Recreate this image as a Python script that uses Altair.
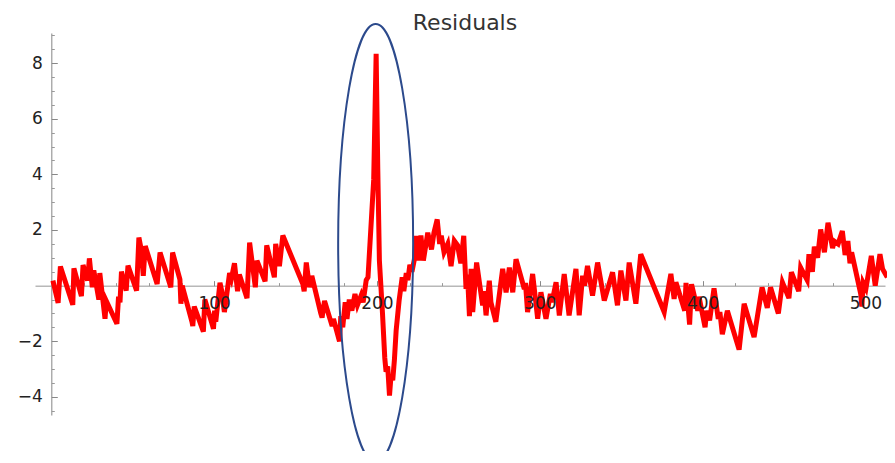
import altair as alt
import pandas as pd

# ---- data ----
xs = [1.0, 4.2, 5.6, 13.2, 13.9, 18.5, 19.5, 22.3, 23.4, 25.2, 26.1, 29.2, 29.8, 33.0, 33.8,
      40.3, 41.3, 42.2, 43.1, 46.0, 47.1, 52.4, 53.8, 55.2, 56.5, 57.7, 65.0, 66.8, 73.4, 74.5,
      79.0, 79.6, 80.4, 86.4, 86.9, 87.8, 93.4, 94.3, 99.6, 100.3, 101.0, 103.6, 104.7, 106.3,
      109.5, 110.6, 112.5, 114.4, 115.5, 120.2, 121.8, 125.3, 126.3, 131.3, 132.3, 137.0, 137.8,
      140.1, 142.2, 154.5, 155.3, 156.6, 158.6, 160.0, 165.5, 166.3, 167.8, 172.5, 173.3, 177.0,
      177.8, 179.0, 180.5, 181.6, 183.0, 184.6, 186.5, 188.0, 190.3, 191.5, 193.4, 194.5, 196.0,
      198.0, 199.5, 200.5, 201.5, 203.4, 204.8, 205.6, 206.6, 207.7, 208.7, 209.7, 210.7, 211.8,
      213.6, 215.5, 216.5, 218.0, 219.0, 220.2, 221.5, 223.0, 224.0, 225.5, 227.0, 228.5, 231.2,
      233.5, 235.0, 237.0, 238.5, 239.5, 241.2, 243.5, 245.5, 247.5, 249.5, 251.5, 253.3, 254.7,
      255.6, 256.8, 257.8, 258.8, 261.2, 264.9, 265.8, 267.0, 269.0, 270.0, 273.0, 277.2, 279.3,
      281.3, 283.4, 285.4, 290.5, 291.2, 292.5, 295.6, 298.7, 300.7, 303.8, 306.5, 307.5, 310.0,
      312.0, 315.0, 318.0, 322.2, 324.2, 326.3, 327.5, 329.3, 332.4, 335.5, 339.6, 344.7, 347.7,
      349.8, 352.9, 354.9, 359.0, 362.0, 376.4, 377.4, 380.5, 382.5, 383.6, 389.0, 389.8, 392.0,
      393.2, 397.0, 397.8, 401.5, 402.5, 404.3, 407.0, 409.6, 410.6, 412.1, 415.2, 422.4, 425.5,
      431.6, 436.5, 439.7, 441.7, 446.5, 449.0, 453.0, 454.5, 459.0, 460.2, 464.2, 465.3, 467.4,
      468.6, 470.6, 472.5, 474.8, 477.0, 479.8, 480.8, 483.2, 485.8, 487.5, 489.2, 490.5, 491.5,
      497.1, 497.8, 498.6, 500.3, 503.6, 506.0, 508.9, 510.5, 513.4]
ys = [0.18, -0.62, 0.69, -0.69, 0.62, -0.38, 0.74, 0.18, 0.98, -0.06, 0.55, -0.50, 0.45, -1.19, -0.55,
      -1.37, -0.40, -0.60, 0.50, -0.18, 0.72, -0.18, 1.73, 1.30, 0.35, 1.42, 0.06, 1.19, -0.06, 1.19,
      0.22, -0.65, 0.00, -1.30, -1.45, -0.75, -1.65, -0.50, -1.55, -0.90, -1.30, 0.10, -0.20, -0.95,
      0.45, 0.25, 0.80, -0.20, 0.40, -0.45, 1.55, -0.06, 0.90, 0.15, 1.45, 0.30, 1.50,
      0.70, 1.80, 0.06, -0.20, 0.83, -0.06, 0.35, -1.00, -1.15, -0.55, -1.45, -1.20, -2.00,
      -1.10, -1.50, -0.60, -1.20, -0.50, -0.90, -0.30, -0.70, -0.35, -0.60, 0.20, 0.30, 1.80,
      3.80, 8.33, 4.20, 0.90, -1.00, -2.60, -3.10, -2.90, -3.95, -3.20, -3.40, -2.68, -1.60,
      -0.54, 0.30, -0.20, 0.45, 0.20, 0.75, 0.50, 0.95, 1.79, 0.90, 1.80, 0.90, 1.90,
      1.30, 1.90, 2.38, 1.50, 1.80, 1.20, 1.50, 0.70, 1.61, 1.45, 0.80, 1.79, -0.12,
      0.40, -1.10, 0.60, -0.95, 0.83, -0.71, -0.20, -1.07, 0.18, -0.60, -1.30, 0.60, -0.24,
      0.65, -0.24, 0.95, -0.12, 0.10, -0.95, 0.42, -1.19, -0.24, -1.19, -0.30, -0.60, 0.12,
      -1.07, 0.42, -1.07, 0.60, -1.07, 0.36, 0.00, 0.71, -0.36, 0.83, -0.54, 0.48, -0.71,
      0.54, -0.54, 0.83, -0.65, 1.13, -0.95, -0.60, 0.42, -0.48, 0.12, -0.90, 0.10, -1.40,
      0.05, -0.90, -0.40, -1.50, -0.90, -1.25, -0.10, -1.20, -0.95, -1.75, -0.90, -2.30, -0.65,
      -1.85, -0.06, -0.80, -0.06, -1.00, 0.12, -0.45, 0.48, -0.20, 0.65, 0.20, 1.13, 0.50,
      1.40, 1.00, 2.02, 1.20, 2.26, 1.35, 1.60, 1.50, 1.96, 1.10, 1.60, 0.80, 1.20,
      -0.30, -0.75, 0.10, -0.10, 1.07, 0.00, 1.13, 0.60, 0.30]

x_label_values = [100, 200, 300, 400, 500]
y_label_values = [-4, -2, 2, 4, 6, 8]
x_minor_values = [20, 40, 60, 80, 120, 140, 160, 180, 220, 240, 260, 280, 320, 340, 360, 380,
                  420, 440, 460, 480]
y_minor_values = [-4.5, -3.5, -3, -2.5, -1.5, -1, -0.5, 0.5, 1, 1.5, 2.5, 3, 3.5, 4.5, 5, 5.5,
                  6.5, 7, 7.5, 8.5, 9]
ellipse_x = [199.2]
ellipse_y = [1.53]

# ---- layout ----
W, H = 850, 382
X_DOM = [-10, 512]
Y_DOM = [-4.65, 9.08]
x0 = W * (0 - X_DOM[0]) / (X_DOM[1] - X_DOM[0])      # pixel of x = 0 from left
y0 = H * (Y_DOM[1] - 0) / (Y_DOM[1] - Y_DOM[0])      # pixel of y = 0 from top

FONT = "DejaVu Sans"
df = pd.DataFrame({"x": xs, "y": ys})
ell = pd.DataFrame({"x": ellipse_x, "y": ellipse_y})


def xsc():
    return alt.Scale(domain=X_DOM, nice=False, zero=False)


def ysc():
    return alt.Scale(domain=Y_DOM, nice=False, zero=False)


# red residual line + axis lines (beneath)
line = alt.Chart(df).mark_line(color="#ff0000", strokeWidth=5, clip=False).encode(
    x=alt.X("x:Q", scale=xsc(), title=None,
            axis=alt.Axis(orient="bottom", offset=-(H - y0), labels=False, ticks=False,
                          grid=False, domainColor="#b8b8b8", domainWidth=1.5)),
    y=alt.Y("y:Q", scale=ysc(), title=None,
            axis=alt.Axis(orient="left", offset=-x0, labels=False, ticks=False,
                          grid=False, domainColor="#9a9a9a", domainWidth=1.2)),
)

# ellipse annotation + tick labels (on top)
ELLIPSE = "M -0.1712 0 A 0.1712 1 0 1 0 0.1712 0 A 0.1712 1 0 1 0 -0.1712 0 Z"
ellipse = alt.Chart(ell).mark_point(shape=ELLIPSE, size=(2 * 219) ** 2, filled=False,
                                    stroke="#2c4a8c", strokeWidth=2, opacity=1).encode(
    x=alt.X("x:Q", scale=xsc(), title=None,
            axis=alt.Axis(orient="bottom", offset=-(H - y0), values=x_label_values,
                          domain=False, ticks=False, grid=False, labelFont=FONT,
                          labelFontSize=17, labelColor="#222222", labelPadding=10,
                          zindex=1)),
    y=alt.Y("y:Q", scale=ysc(), title=None,
            axis=alt.Axis(orient="left", offset=-x0, values=y_label_values,
                          domain=False, ticks=False, grid=False, labelFont=FONT,
                          labelFontSize=17, labelColor="#222222", labelPadding=9,
                          zindex=1)),
)

# major ticks pointing inward
major = alt.Chart(df).mark_line(opacity=0).encode(
    x=alt.X("x:Q", scale=xsc(), title=None,
            axis=alt.Axis(orient="top", offset=-y0, values=x_label_values, labels=False,
                          domain=False, grid=False, tickSize=5, tickColor="#888888",
                          tickWidth=1)),
    y=alt.Y("y:Q", scale=ysc(), title=None,
            axis=alt.Axis(orient="right", offset=-(W - x0), values=y_label_values,
                          labels=False, domain=False, grid=False, tickSize=6,
                          tickColor="#888888", tickWidth=1)),
)

# minor ticks
minor = alt.Chart(df).mark_line(opacity=0).encode(
    x=alt.X("x:Q", scale=xsc(), title=None,
            axis=alt.Axis(orient="top", offset=-y0, values=x_minor_values, labels=False,
                          domain=False, grid=False, tickSize=3, tickColor="#999999",
                          tickWidth=1)),
    y=alt.Y("y:Q", scale=ysc(), title=None,
            axis=alt.Axis(orient="right", offset=-(W - x0), values=y_minor_values,
                          labels=False, domain=False, grid=False, tickSize=3,
                          tickColor="#999999", tickWidth=1)),
)

chart = alt.layer(line, major, minor, ellipse).resolve_axis(
    x="independent", y="independent"
).properties(
    width=W,
    height=H,
    title=alt.TitleParams("Residuals", font=FONT, fontSize=22, fontWeight="normal",
                          color="#333333", anchor="middle", frame="group", offset=2,
                          dx=5, dy=17),
    autosize=alt.AutoSizeParams(type="none"),
    padding={"left": 27, "top": 25, "right": 2, "bottom": 36},
).configure_view(stroke=None)

chart.save("out.html", embed_options={"renderer": "svg", "actions": False})
